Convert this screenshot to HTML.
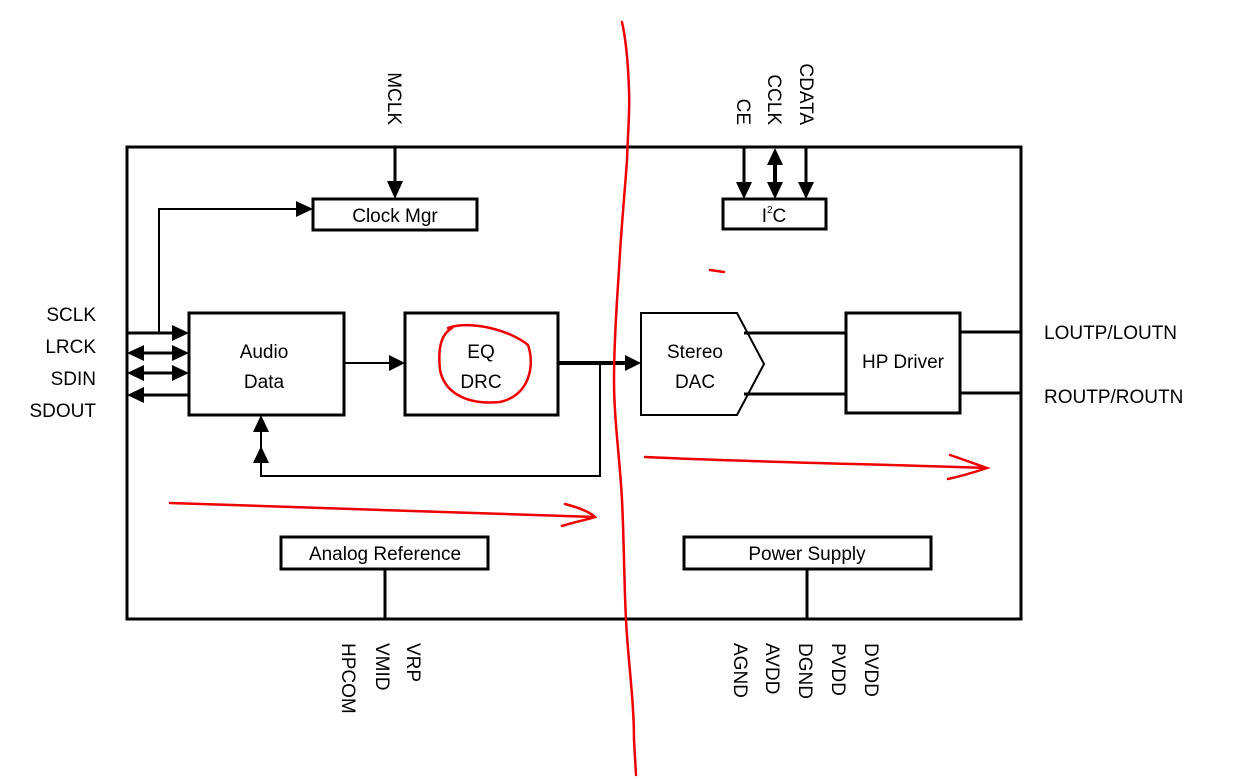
<!DOCTYPE html>
<html><head><style>
html,body{margin:0;padding:0;background:#fff;}
svg{display:block;}
text{font-family:"Liberation Sans",sans-serif;font-size:19px;fill:#000;}
</style></head><body>
<svg width="1260" height="779" viewBox="0 0 1260 779" xmlns="http://www.w3.org/2000/svg">
<g fill="none" stroke="#000" stroke-width="3">
<rect x="127" y="147" width="894" height="472"/>
<rect x="313" y="199" width="164" height="31"/>
<rect x="189" y="313" width="155" height="102"/>
<rect x="405" y="313" width="153" height="102"/>
<rect x="846" y="313" width="114" height="100"/>
<rect x="723" y="199" width="103" height="30"/>
<rect x="281" y="537" width="207" height="32"/>
<rect x="684" y="537" width="247" height="32"/>
<path d="M641,313 L737,313 L764,364 L737,415 L641,415 Z" stroke-width="2"/>
<path d="M744,333 H846 M744,394 H846 M960,332 H1021 M960,393 H1021"/>
<path d="M385,569 V619 M807,569 V619"/>
</g>
<g stroke="#000" stroke-width="3" fill="#000">
<line x1="395" y1="147" x2="395" y2="182"/><path d="M387,181 L403,181 L395,199z" stroke="none"/>
<path d="M159,333 V209 H296" fill="none" stroke-width="2"/><path d="M296,201 L313,209 L296,217z" stroke="none"/>
<line x1="127" y1="333" x2="172" y2="333"/><path d="M172,325 L189,333 L172,341z" stroke="none"/>
<line x1="144" y1="353" x2="172" y2="353"/><path d="M172,345 L189,353 L172,361z M144,345 L127,353 L144,361z" stroke="none"/>
<line x1="144" y1="373" x2="172" y2="373"/><path d="M172,365 L189,373 L172,381z M144,365 L127,373 L144,381z" stroke="none"/>
<line x1="144" y1="395" x2="189" y2="395"/><path d="M144,387 L127,395 L144,403z" stroke="none"/>
<line x1="344" y1="363" x2="390" y2="363" stroke-width="2"/><path d="M389,355 L405,363 L389,371z" stroke="none"/>
<line x1="558" y1="363" x2="626" y2="363" stroke-width="4"/><path d="M625,355 L641,363 L625,371z" stroke="none"/>
<path d="M600,363 V476 H261 V430" fill="none" stroke-width="2"/>
<path d="M253,432 L261,415 L269,432z M253,463 L261,446 L269,463z" stroke="none"/>
<line x1="744" y1="147" x2="744" y2="183"/><path d="M736,182 L752,182 L744,199z" stroke="none"/>
<line x1="775" y1="164" x2="775" y2="183" stroke-width="4"/><path d="M767,182 L783,182 L775,199z M767,165 L783,165 L775,148z" stroke="none"/>
<line x1="806" y1="147" x2="806" y2="183"/><path d="M798,182 L814,182 L806,199z" stroke="none"/>
</g>
<g>
<text x="395" y="222" text-anchor="middle">Clock Mgr</text>
<text x="264" y="358" text-anchor="middle">Audio</text>
<text x="264" y="388" text-anchor="middle">Data</text>
<text x="481" y="358" text-anchor="middle">EQ</text>
<text x="481" y="388" text-anchor="middle">DRC</text>
<text x="695" y="358" text-anchor="middle">Stereo</text>
<text x="695" y="388" text-anchor="middle">DAC</text>
<text x="903" y="368" text-anchor="middle">HP Driver</text>
<text x="774" y="222" text-anchor="middle">I<tspan font-size="10" dy="-9">2</tspan><tspan dy="9">C</tspan></text>
<text x="385" y="560" text-anchor="middle">Analog Reference</text>
<text x="807" y="560" text-anchor="middle">Power Supply</text>
<text x="96" y="321" text-anchor="end">SCLK</text>
<text x="96" y="353" text-anchor="end">LRCK</text>
<text x="96" y="385" text-anchor="end">SDIN</text>
<text x="96" y="417" text-anchor="end">SDOUT</text>
<text x="1044" y="339">LOUTP/LOUTN</text>
<text x="1044" y="403">ROUTP/ROUTN</text>
<text transform="translate(388,125) rotate(90)" text-anchor="end">MCLK</text>
<text transform="translate(737,125) rotate(90)" text-anchor="end">CE</text>
<text transform="translate(768,125) rotate(90)" text-anchor="end">CCLK</text>
<text transform="translate(800,125) rotate(90)" text-anchor="end">CDATA</text>
<text transform="translate(342,643) rotate(90)">HPCOM</text>
<text transform="translate(376,643) rotate(90)">VMID</text>
<text transform="translate(407,643) rotate(90)">VRP</text>
<text transform="translate(734,643) rotate(90)">AGND</text>
<text transform="translate(766,643) rotate(90)">AVDD</text>
<text transform="translate(799,643) rotate(90)">DGND</text>
<text transform="translate(832,643) rotate(90)">PVDD</text>
<text transform="translate(865,643) rotate(90)">DVDD</text>
</g>
<g fill="none" stroke="#e00" stroke-width="2.5" stroke-linecap="round">
<path d="M622,22 C626,40 628,60 629,90 C630,110 628,130 627,160 C625,190 621,230 619,270 C617,300 614,340 614,380 C614,420 620,460 622,500 C624,540 624,580 626,620 C628,660 634,700 634,740 L636,775"/>
<path d="M170,503 C250,505 400,510 595,517 M565,504 C580,508 590,512 595,517 C585,520 575,522 562,526"/>
<path d="M645,457 C750,462 870,464 987,468 M950,455 C965,460 975,464 987,468 C975,472 962,476 948,479"/>
<path d="M448,328 C470,320 510,330 528,345 C535,365 530,395 500,402 C470,405 445,395 440,370 C438,350 440,335 452,328"/>
<path d="M710,270 L724,272"/>
</g>
</svg>
</body></html>
